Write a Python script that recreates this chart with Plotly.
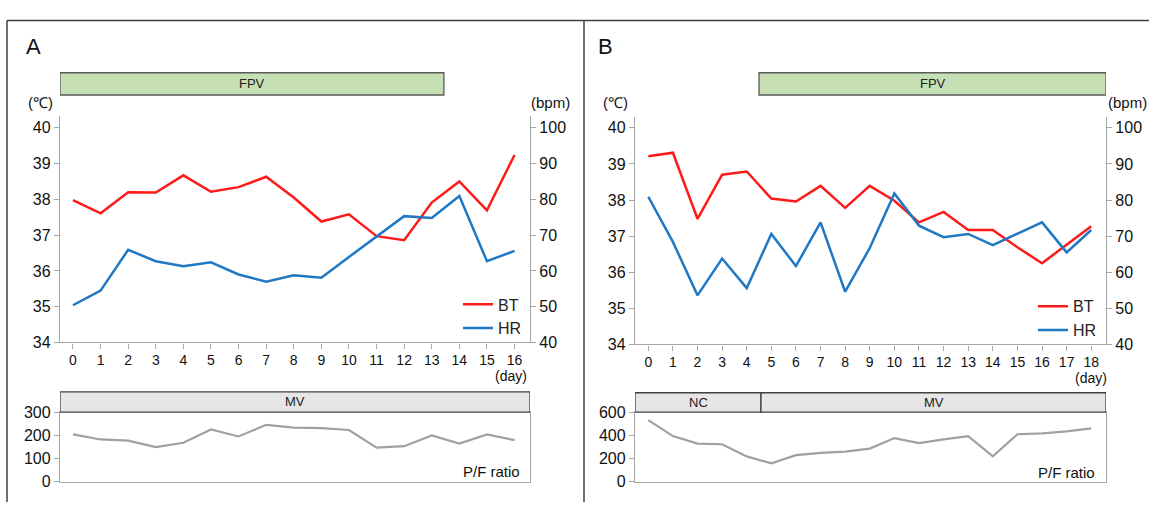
import plotly.graph_objects as go

W, H = 1149, 511

# ---------------- data ----------------
days_A = list(range(17))
bt_A = [37.98, 37.61, 38.20, 38.19, 38.67, 38.21, 38.34, 38.63, 38.05, 37.38,
        37.58, 36.97, 36.86, 37.91, 38.50, 37.69, 39.24]
hr_A = [50.4, 54.5, 65.9, 62.7, 61.3, 62.4, 59.0, 57.0, 58.8, 58.1,
        63.9, 69.6, 75.3, 74.8, 80.9, 62.7, 65.6]
pf_A = [204, 182, 177, 149, 168, 225, 195, 245, 233, 231, 223, 147, 153, 199, 164, 204, 179]

days_B = list(range(19))
bt_B = [39.21, 39.31, 37.48, 38.70, 38.79, 38.04, 37.96, 38.39, 37.78, 38.39,
        37.98, 37.38, 37.67, 37.17, 37.17, 36.69, 36.25, 36.75, 37.27]
hr_B = [80.9, 68.4, 53.6, 63.8, 55.6, 70.6, 61.7, 73.8, 54.6, 66.7,
        81.8, 72.9, 69.7, 70.6, 67.5, 70.6, 73.8, 65.5, 71.7]
pf_B = [531, 393, 329, 323, 218, 158, 229, 249, 260, 285, 376, 332, 365, 393, 218, 409, 417, 434, 459]

bt_ticks = [34, 35, 36, 37, 38, 39, 40]
hr_ticks = [40, 50, 60, 70, 80, 90, 100]
pfA_ticks = [0, 100, 200, 300]
pfB_ticks = [0, 200, 400, 600]

# axis ranges (days)
xr_A = [-0.47, 16.56]
xr_B = [-0.54, 18.6]

# treatment periods (label, start day, end day)
top_A = [("FPV", xr_A[0], 13.44)]
bot_A = [("MV", xr_A[0], xr_A[1])]
top_B = [("FPV", 4.5, xr_B[1])]
bot_B = [("NC", xr_B[0], 4.58), ("MV", 4.58, xr_B[1])]

# ---------------- helpers ----------------
def px(x):
    return x / W

def py(y):
    return 1 - y / H

FONT = "Arial, Liberation Sans, sans-serif"
AXC = "#a6a6a6"
RED = "#ff1a1a"
BLUE = "#1f78c4"
GRAY = "#a0a0a0"

fig = go.Figure()

fig.add_trace(go.Scatter(x=days_A, y=bt_A, mode="lines", name="BT",
                         line=dict(color=RED, width=2.5), xaxis="x", yaxis="y", legend="legend"))
fig.add_trace(go.Scatter(x=days_A, y=hr_A, mode="lines", name="HR",
                         line=dict(color=BLUE, width=2.5), xaxis="x", yaxis="y2", legend="legend"))
fig.add_trace(go.Scatter(x=days_A, y=pf_A, mode="lines", showlegend=False,
                         line=dict(color=GRAY, width=2.2), xaxis="x2", yaxis="y3"))
fig.add_trace(go.Scatter(x=days_B, y=bt_B, mode="lines", name="BT",
                         line=dict(color=RED, width=2.5), xaxis="x3", yaxis="y4", legend="legend2"))
fig.add_trace(go.Scatter(x=days_B, y=hr_B, mode="lines", name="HR",
                         line=dict(color=BLUE, width=2.5), xaxis="x3", yaxis="y5", legend="legend2"))
fig.add_trace(go.Scatter(x=days_B, y=pf_B, mode="lines", showlegend=False,
                         line=dict(color=GRAY, width=2.2), xaxis="x4", yaxis="y6"))

common = dict(showgrid=False, zeroline=False, showline=True, linecolor=AXC, linewidth=1.3,
              ticks="outside", ticklen=5, tickcolor=AXC, tickfont=dict(family=FONT, size=16, color="#111"))

xt = dict(common, tickfont=dict(family=FONT, size=14, color="#111"))

fig.update_layout(
    width=W, height=H, autosize=False,
    margin=dict(l=0, r=0, t=0, b=0),
    paper_bgcolor="white", plot_bgcolor="white",
    font=dict(family=FONT, color="#111"),
    xaxis=dict(xt, domain=[px(60), px(530)], range=xr_A, anchor="y", tickvals=days_A),
    yaxis=dict(common, domain=[py(346), py(112)], range=[34, 40.32], anchor="x", tickvals=bt_ticks),
    yaxis2=dict(common, overlaying="y", side="right", anchor="x", range=[40, 103.2], tickvals=hr_ticks),
    xaxis2=dict(common, domain=[px(60), px(530)], range=xr_A, anchor="y3",
                ticks="", showticklabels=False, mirror=True),
    yaxis3=dict(common, domain=[py(490), py(418)], range=[0, 300], anchor="x2",
                tickvals=pfA_ticks, mirror=True),
    xaxis3=dict(xt, domain=[px(635), px(1106)], range=xr_B, anchor="y4", tickvals=days_B),
    yaxis4=dict(common, domain=[py(348), py(112.7)], range=[34, 40.3], anchor="x3", tickvals=bt_ticks),
    yaxis5=dict(common, overlaying="y4", side="right", anchor="x3", range=[40, 103], tickvals=hr_ticks),
    xaxis4=dict(common, domain=[px(635), px(1106)], range=xr_B, anchor="y6",
                ticks="", showticklabels=False, mirror=True),
    yaxis6=dict(common, domain=[py(490), py(418)], range=[0, 600], anchor="x4",
                tickvals=pfB_ticks, mirror=True),
    legend=dict(x=px(458), y=py(289), xanchor="left", yanchor="top",
                bgcolor="rgba(0,0,0,0)", font=dict(family=FONT, size=16, color="#222"),
                itemwidth=30, tracegroupgap=0),
    legend2=dict(x=px(1033), y=py(291), xanchor="left", yanchor="top",
                 bgcolor="rgba(0,0,0,0)", font=dict(family=FONT, size=16, color="#222"),
                 itemwidth=30, tracegroupgap=0),
)

shapes = []
annots = []

def phase_boxes(items, xref, y0px, y1px, fill, border, fsize):
    for label, a, b in items:
        shapes.append(dict(type="rect", xref=xref, yref="paper", x0=a, x1=b,
                           y0=py(y1px), y1=py(y0px), fillcolor=fill,
                           line=dict(color=border, width=1.3), layer="above"))
        annots.append(dict(text=label, xref=xref, yref="paper", x=(a + b) / 2,
                           y=py((y0px + y1px) / 2), showarrow=False,
                           font=dict(family=FONT, size=fsize, color="#222"),
                           xanchor="center", yanchor="middle"))

phase_boxes(top_A, "x", 67, 90, "#c6e0b4", "#5a5a5a", 13)
phase_boxes(bot_A, "x2", 397, 418, "#e6e6e6", "#404040", 13)
phase_boxes(top_B, "x3", 67, 90, "#c6e0b4", "#5a5a5a", 13)
phase_boxes(bot_B, "x4", 398, 418, "#e6e6e6", "#404040", 13)

for x0, y0, x1, y1 in [(7, 13, 1149, 13), (7, 13, 7, 511), (584, 13, 584, 511)]:
    shapes.append(dict(type="line", xref="paper", yref="paper", x0=px(x0), y0=py(y0),
                       x1=px(x1), y1=py(y1), line=dict(color="#404040", width=1.5)))

def txt(s, x, y, size, xanchor="center"):
    annots.append(dict(text=s, xref="paper", yref="paper", x=px(x), y=py(y),
                       showarrow=False, xanchor=xanchor, yanchor="middle",
                       font=dict(family=FONT, size=size, color="#111")))

txt("A", 24, 40, 22, "left")
txt("B", 596, 40, 22, "left")
txt("(℃)", 40, 98, 15)
txt("(bpm)", 550, 98, 15)
txt("(℃)", 615, 98, 15)
txt("(bpm)", 1127, 98, 15)
txt("(day)", 511, 381, 14)
txt("(day)", 1091, 383, 14)
txt("P/F ratio", 522, 479, 15, "right")
txt("P/F ratio", 1097, 480, 15, "right")

fig.update_layout(shapes=shapes, annotations=annots)

PAGE_FIX = (
    "document.documentElement.style.margin='0';document.documentElement.style.padding='0';"
    "document.documentElement.style.overflow='hidden';"
    "document.body.style.margin='0';document.body.style.padding='0';document.body.style.overflow='hidden';"
    "var gd=document.getElementsByClassName('plotly-graph-div')[0];"
    "gd.style.position='absolute';gd.style.top='0px';gd.style.left='0px';"
)
fig.write_html("out.html", config={"displayModeBar": False}, post_script=PAGE_FIX)
